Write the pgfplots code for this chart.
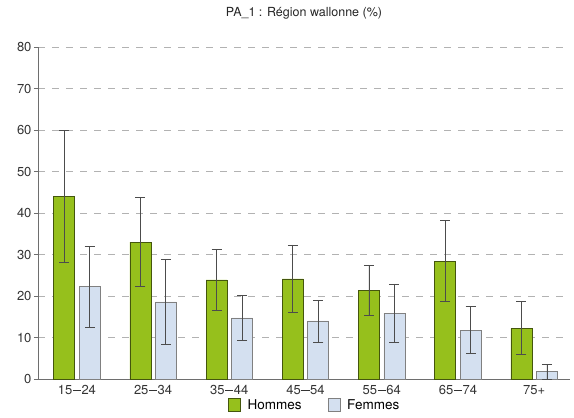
\documentclass[border=0pt]{standalone}
\usepackage{fontspec}
\setmainfont{TeX Gyre Heros}
\usepackage{pgfplots}
\pgfplotsset{compat=1.18}
\definecolor{hgreen}{RGB}{150,192,28}
\definecolor{fblue}{RGB}{212,224,240}
\definecolor{axgray}{RGB}{110,110,110}
\newcommand{\rng}[2]{#1\kern0.6pt\rule[0.3em]{0.62em}{0.085em}\kern0.6pt#2}
\begin{document}
\begin{tikzpicture}
\begin{axis}[
  name=ax,
  scale only axis,
  width=532pt, height=332pt,
  ybar=4.5pt, bar width=21pt,
  xmin=-0.51, xmax=6.47,
  ymin=0, ymax=80,
  ytick={0,10,...,80},
  xtick={0,...,6},
  xticklabels={\rng{15}{24},\rng{25}{34},\rng{35}{44},\rng{45}{54},\rng{55}{64},\rng{65}{74},75+},
  axis x line*=bottom, axis y line*=left,
  axis line style={axgray, line width=0.6pt},
  x axis line style={-}, y axis line style={-},
  xtick style={draw=none},
  ytick style={axgray},
  tick align=outside,
  major tick length=4pt,
  ymajorgrids,
  grid style={gray!60, dashed, dash pattern=on 7pt off 7pt, line width=0.6pt},
  tick label style={font=\fontsize{13}{15}\selectfont, text=black!80},
  xticklabel style={yshift=1pt},
  yticklabel style={xshift=1pt},
  /pgf/number format/assume math mode=true,
  title={PA\_1 : Région wallonne (\%)},
  title style={font=\fontsize{12.5}{14}\selectfont, text=black!85, at={(0.5,1)}, anchor=south, yshift=18pt},
  legend style={draw=none, at={(0.52,-0.05)}, anchor=north, legend columns=2,
    font=\fontsize{13.5}{15}\selectfont,
    /tikz/every even column/.append style={column sep=24pt}},
  legend image code/.code={\draw[#1] (0pt,-6pt) rectangle (12pt,7pt); \path (17pt,0pt);},
  error bars/y dir=both, error bars/y explicit,
  error bars/error bar style={black!70, line width=0.7pt},
  error bars/error mark options={rotate=90, mark size=5pt, black!70, line width=0.7pt},
]
\addplot[fill=hgreen, draw=black!55!hgreen, line width=0.6pt] coordinates {
  (0,44.0) -= (0,16.0) += (0,16.0)
  (1,33.0) -= (0,10.7) += (0,10.7)
  (2,23.9) -= (0,7.4) += (0,7.3)
  (3,24.1) -= (0,8.0) += (0,8.2)
  (4,21.4) -= (0,6.1) += (0,6.1)
  (5,28.4) -= (0,9.6) += (0,9.8)
  (6,12.2) -= (0,6.2) += (0,6.4)
};
\addplot[fill=fblue, draw=black!50, line width=0.6pt] coordinates {
  (0,22.4) -= (0,10.0) += (0,9.5)
  (1,18.6) -= (0,10.3) += (0,10.3)
  (2,14.7) -= (0,5.5) += (0,5.5)
  (3,14.0) -= (0,5.1) += (0,5.0)
  (4,15.9) -= (0,7.0) += (0,7.0)
  (5,11.8) -= (0,5.5) += (0,5.6)
  (6,1.9) -= (0,1.9) += (0,1.7)
};
\legend{Hommes,Femmes}
\end{axis}
\path (ax.south west) ++(-38pt,-38pt) coordinate (bl);
\path (ax.north east) ++(4pt,47pt) coordinate (tr);
\path (bl) (tr);
\end{tikzpicture}
\end{document}
